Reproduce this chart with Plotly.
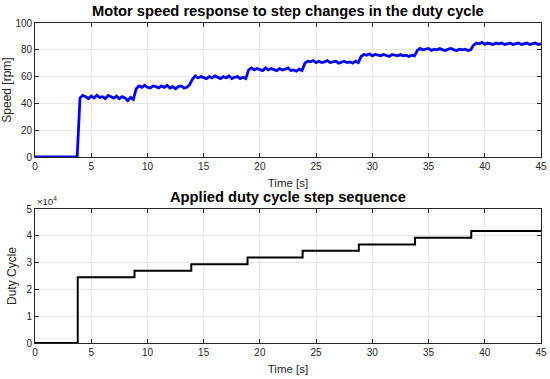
import numpy as np
import plotly.graph_objects as go

# ---- data ----
t_speed = np.round(np.arange(0, 45.001, 0.25), 2)
speed_rpm = (
    [0.0] * 16
    + [44, 46, 45, 43.5, 45.5, 44, 46, 44.5, 45, 43.5, 46, 45, 44, 45.5, 43.5, 45, 44, 42, 44.5, 43]
    + [51, 53, 52, 53.5, 52, 51.5, 53, 52.5, 51.5, 53, 52, 53.5, 51.5, 52.5, 51, 52.5, 53, 51.5, 52, 54]
    + [58, 60.5, 59, 60, 59.5, 58.5, 60, 59, 60.5, 59.5, 58.5, 60, 59, 60.5, 58.5, 59.5, 60, 58.5, 59.5, 58.5]
    + [65, 66.5, 65, 66, 65.5, 64.5, 66.5, 65, 66, 65.5, 64.5, 66, 65, 65.5, 66.5, 64.5, 65, 64, 65.5, 64.5]
    + [70, 71.5, 71, 72, 70.5, 71.5, 70.5, 71, 72, 70.5, 71, 71.5, 70, 71, 71.5, 70.5, 71, 70, 71.5, 70.5]
    + [75, 76.5, 76, 77, 75.5, 76.5, 76, 75.5, 76.5, 76, 75, 76.5, 76, 75.5, 76.5, 75.5, 76, 75, 76, 75.5]
    + [79.5, 81, 80, 80.5, 81, 79.5, 80.5, 80, 81, 80, 79.5, 80.5, 81, 80, 79.5, 80.5, 80, 80.5, 79.5, 80]
    + [83.5, 85, 84.5, 85.5, 84, 85, 84.5, 84, 85, 84.5, 85, 84, 84.5, 85, 84, 84.5, 85, 84, 84.5, 85, 84, 84.5, 85, 84, 84.5]
)

step_times = [0, 3.8, 8.85, 13.9, 18.9, 23.8, 28.8, 33.8, 38.8, 45]
duty_levels = [0, 24500, 27000, 29400, 31900, 34400, 36800, 39300, 41800]

x_ticks = [0, 5, 10, 15, 20, 25, 30, 35, 40, 45]
speed_ticks = [0, 20, 40, 60, 80, 100]
duty_ticks = [0, 10000, 20000, 30000, 40000, 50000]
duty_tick_labels = ["0", "1", "2", "3", "4", "5"]

# build step polyline for duty cycle
duty_t, duty_v = [], []
for i, lvl in enumerate(duty_levels):
    duty_t += [step_times[i], step_times[i + 1]]
    duty_v += [lvl, lvl]

fig = go.Figure()
fig.add_trace(go.Scatter(x=t_speed, y=speed_rpm, mode="lines",
                         line=dict(color="#0000FF", width=2.8), xaxis="x", yaxis="y",
                         showlegend=False))
fig.add_trace(go.Scatter(x=duty_t, y=duty_v, mode="lines",
                         line=dict(color="#000000", width=2), xaxis="x2", yaxis="y2",
                         showlegend=False))

W, H = 550, 379
xd = [35 / W, 541 / W]
ax_common = dict(showline=True, linecolor="#262626", linewidth=0.8, mirror="ticks",
                 ticks="inside", ticklen=4, tickcolor="#262626", showgrid=True,
                 gridcolor="#e6e6e6", gridwidth=1, zeroline=False, automargin=False,
                 tickfont=dict(family="Liberation Sans, Arial", size=10, color="#262626"))

fig.update_layout(
    width=W, height=H, margin=dict(l=0, r=0, t=0, b=0, autoexpand=False),
    paper_bgcolor="white", plot_bgcolor="white",
    font=dict(family="Liberation Sans, Arial", color="#262626"),
    xaxis=dict(domain=xd, range=[0, 45], tickvals=x_ticks, anchor="y",
               title=dict(text="Time [s]", font=dict(size=11.5), standoff=8), **ax_common),
    yaxis=dict(domain=[1 - 157 / H, 1 - 23 / H], range=[0, 100], tickvals=speed_ticks, anchor="x",
               title=dict(text="Speed [rpm]", font=dict(size=12), standoff=5), **ax_common),
    xaxis2=dict(domain=xd, range=[0, 45], tickvals=x_ticks, anchor="y2",
                title=dict(text="Time [s]", font=dict(size=11.5), standoff=8), **ax_common),
    yaxis2=dict(domain=[1 - 343 / H, 1 - 209 / H], range=[0, 50000], tickvals=duty_ticks,
                ticktext=duty_tick_labels, anchor="x2",
                title=dict(text="Duty Cycle", font=dict(size=12), standoff=7), **ax_common),
    annotations=[
        dict(text="<b>Motor speed response to step changes in the duty cycle</b>",
             x=(xd[0] + xd[1]) / 2, y=1 - 11 / H, xref="paper", yref="paper",
             showarrow=False, font=dict(size=14.7, color="black"), xanchor="center", yanchor="middle"),
        dict(text="<b>Applied duty cycle step sequence</b>",
             x=(xd[0] + xd[1]) / 2, y=1 - 197 / H, xref="paper", yref="paper",
             showarrow=False, font=dict(size=14.7, color="black"), xanchor="center", yanchor="middle"),
        dict(text="×10<sup>4</sup>", x=xd[0], y=1 - 209 / H, xref="paper", yref="paper",
             showarrow=False, font=dict(size=9.5, color="#262626"), xanchor="left", yanchor="bottom"),
    ],
)

fig.write_html("out.html", config={"displayModeBar": False},
               post_script="document.body.style.margin='0';document.body.style.overflow='hidden';")
